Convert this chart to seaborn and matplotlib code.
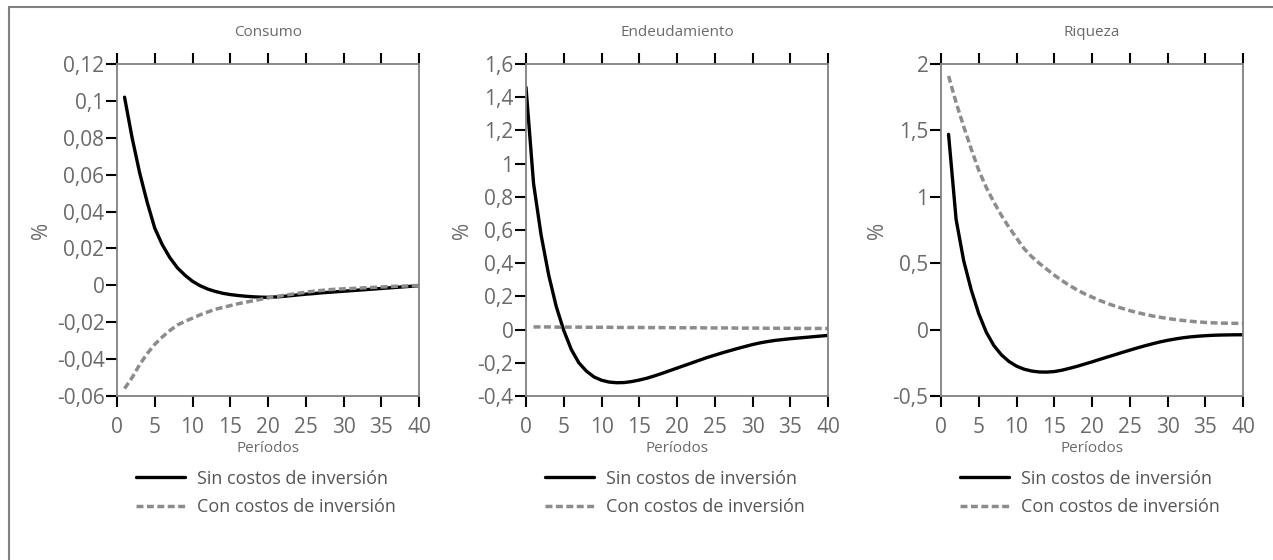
import pandas as pd
import numpy as np
import matplotlib
matplotlib.use("Agg")
import matplotlib.pyplot as plt
from matplotlib.lines import Line2D
import seaborn as sns

# ---- data ----
titles = ["Consumo", "Endeudamiento", "Riqueza"]
series_names = ["Sin costos de inversión", "Con costos de inversión"]

periods_1_40 = list(range(1, 41))
periods_0_40 = list(range(0, 41))

consumo_sin = [0.102, 0.080, 0.061, 0.045, 0.031, 0.022, 0.015, 0.0095, 0.0055, 0.0022,
               -0.0002, -0.002, -0.0033, -0.0043, -0.005, -0.0055, -0.0059, -0.0062, -0.0064, -0.0065,
               -0.0063, -0.006, -0.0056, -0.0052, -0.0048, -0.0045, -0.0041, -0.0038, -0.0035, -0.0032,
               -0.0029, -0.0026, -0.0023, -0.002, -0.0017, -0.0014, -0.0011, -0.0008, -0.0005, -0.0002]
consumo_con = [-0.056, -0.050, -0.043, -0.037, -0.032, -0.028, -0.0245, -0.0215, -0.0195, -0.0178,
               -0.016, -0.0145, -0.013, -0.012, -0.011, -0.010, -0.0092, -0.0084, -0.0076, -0.0068,
               -0.0061, -0.0055, -0.0049, -0.0043, -0.0037, -0.0032, -0.0028, -0.0024, -0.0021, -0.0019,
               -0.0017, -0.0015, -0.0013, -0.0011, -0.0009, -0.0007, -0.0005, -0.0004, -0.0002, -0.0001]

endeud_sin = [1.46, 0.88, 0.57, 0.33, 0.14, -0.005, -0.12, -0.20, -0.25, -0.285,
              -0.305, -0.316, -0.32, -0.319, -0.313, -0.304, -0.293, -0.279, -0.264, -0.248,
              -0.232, -0.216, -0.20, -0.184, -0.168, -0.154, -0.14, -0.127, -0.114, -0.102,
              -0.09, -0.08, -0.072, -0.065, -0.06, -0.055, -0.051, -0.047, -0.043, -0.039, -0.035]
endeud_con = [0.016, 0.016, 0.016, 0.015, 0.015, 0.015, 0.015, 0.014, 0.014, 0.014,
              0.014, 0.013, 0.013, 0.013, 0.013, 0.012, 0.012, 0.012, 0.012, 0.011,
              0.011, 0.011, 0.011, 0.010, 0.010, 0.010, 0.010, 0.009, 0.009, 0.009,
              0.009, 0.008, 0.008, 0.008, 0.008, 0.007, 0.007, 0.007, 0.007, 0.006]

riqueza_sin = [1.47, 0.83, 0.52, 0.30, 0.12, -0.02, -0.12, -0.19, -0.24, -0.275,
               -0.298, -0.312, -0.319, -0.32, -0.316, -0.306, -0.292, -0.277, -0.26, -0.243,
               -0.225, -0.207, -0.19, -0.172, -0.155, -0.138, -0.122, -0.107, -0.093, -0.081,
               -0.071, -0.062, -0.055, -0.05, -0.046, -0.043, -0.041, -0.04, -0.039, -0.039]
riqueza_con = [1.91, 1.71, 1.53, 1.36, 1.20, 1.07, 0.96, 0.86, 0.77, 0.69,
               0.61, 0.55, 0.50, 0.455, 0.41, 0.37, 0.333, 0.30, 0.27, 0.245,
               0.22, 0.198, 0.178, 0.16, 0.143, 0.128, 0.115, 0.103, 0.093, 0.084,
               0.076, 0.069, 0.063, 0.058, 0.054, 0.051, 0.049, 0.048, 0.047, 0.046]

x_ticks = [0, 5, 10, 15, 20, 25, 30, 35, 40]
y_ticks = [
    [-0.06, -0.04, -0.02, 0, 0.02, 0.04, 0.06, 0.08, 0.1, 0.12],
    [-0.4, -0.2, 0, 0.2, 0.4, 0.6, 0.8, 1, 1.2, 1.4, 1.6],
    [-0.5, 0, 0.5, 1, 1.5, 2],
]
y_tick_labels = [
    ["-0,06", "-0,04", "-0,02", "0", "0,02", "0,04", "0,06", "0,08", "0,1", "0,12"],
    ["-0,4", "-0,2", "0", "0,2", "0,4", "0,6", "0,8", "1", "1,2", "1,4", "1,6"],
    ["-0,5", "0", "0,5", "1", "1,5", "2"],
]

panels = [
    (periods_1_40, consumo_sin, periods_1_40, consumo_con),
    (periods_0_40, endeud_sin, periods_1_40, endeud_con),
    (periods_1_40, riqueza_sin, periods_1_40, riqueza_con),
]

# ---- style ----
sns.set_style("white")
plt.rcParams["font.family"] = ["Open Sans", "DejaVu Sans"]
txt = "#6a6a6a"
spine_c = "#808080"
grey_line = "#8c8c8c"

fig = plt.figure(figsize=(12.73, 5.6), dpi=100)
lefts = [117, 526, 941]
W, H = 1273, 560

for i, (xs, ys, xc, yc) in enumerate(panels):
    ax = fig.add_axes([lefts[i] / W, (H - 396) / H, 302 / W, 332 / H])
    sns.lineplot(x=xs, y=ys, ax=ax, color="black", linewidth=2.4, label=series_names[0])
    sns.lineplot(x=xc, y=yc, ax=ax, color=grey_line, linewidth=2.5, linestyle=(0, (2.0, 1.0)),
                 label=series_names[1])
    ax.set_xlim(0, 40)
    ax.set_ylim(y_ticks[i][0], y_ticks[i][-1])
    ax.set_xticks(x_ticks)
    ax.set_xticklabels([str(t) for t in x_ticks])
    ax.set_yticks(y_ticks[i])
    ax.set_yticklabels(y_tick_labels[i])
    ax.tick_params(axis="x", which="both", direction="out", top=True, bottom=True,
                   labeltop=False, length=8, width=1.5, color="black",
                   labelsize=15, labelcolor=txt, pad=7)
    ax.tick_params(axis="y", direction="out", left=True, right=False, length=8, width=1.5,
                   color="black", labelsize=15, labelcolor=txt, pad=1)
    for s in ax.spines.values():
        s.set_visible(True)
        s.set_color(spine_c)
        s.set_linewidth(1.3)
    ax.text(0.5, 1 + 31 / 332, titles[i], transform=ax.transAxes, ha="center", va="center",
            fontsize=11, color=txt)
    ax.set_xlabel("Períodos", fontsize=11, color=txt, labelpad=2)
    ax.set_ylabel("%", fontsize=15, color=txt, labelpad=3)
    ax.legend(loc="upper left", bbox_to_anchor=(0.04, -0.2), frameon=False,
              fontsize=13, labelcolor="#555555", handlelength=2.7, handletextpad=0.65,
              labelspacing=0.6, borderaxespad=0)

# outer frame (left and top edges)
fig.add_artist(Line2D([8.5 / W, 8.5 / W], [0, 1 - 7 / H], transform=fig.transFigure,
                      color=spine_c, linewidth=1.5))
fig.add_artist(Line2D([8.5 / W, 1], [1 - 7 / H, 1 - 7 / H], transform=fig.transFigure,
                      color=spine_c, linewidth=1.5))

fig.savefig("out.png", dpi=100)
